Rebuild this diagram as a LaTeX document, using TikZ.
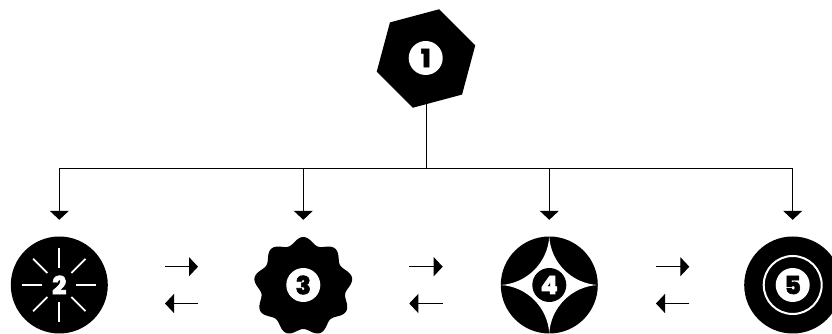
\documentclass[tikz,border=0pt]{standalone}
\usepackage{fontspec}
\newfontfamily\digitfont[FakeBold=2.2]{Poppins ExtraBold}
\usetikzlibrary{arrows.meta,shapes.geometric}
\tikzset{
  x=1pt,y=1pt,
  conn/.style={line width=1pt,black,-{Triangle[length=9pt,width=19pt]}},
  drop/.style={conn,shorten >=16.5pt},
  bus/.style={line width=1pt,black},
  disc/.style={circle,fill=black,draw=none,minimum size=97pt,inner sep=0pt},
  anchorbox/.style={circle,draw=none,minimum size=97pt,inner sep=0pt},
  badge/.style={circle,minimum size=34pt,inner sep=0pt,font=\digitfont\fontsize{25}{25}\selectfont},
  wbadge/.style={badge,fill=white,text=black},
  bbadge/.style={badge,fill=black,text=white},
  tbadge/.style={badge,text=white},
  ray/.style={white,line width=1.7pt},
}
\begin{document}
\begin{tikzpicture}
\useasboundingbox (0,0) rectangle (832,334);
% top hexagon
\node[regular polygon,regular polygon sides=6,shape border rotate=15,fill=black,minimum size=102pt,inner sep=0pt] (hex) at (426,275.5) {};
\node[wbadge] (n1) at (425.7,276) {1};
% node 2
\node[disc] (c2) at (59.3,49) {};
\foreach \a in {0,45,...,315}
  \draw[ray] (c2.center) ++(\a:17) -- ++(\a:20);
\node[tbadge] (n2) at (c2) {2};
% node 3
\node[anchorbox] (c3) at (303.3,49) {};
\begin{scope}[shift={(303.3,47.5)}]
  \fill[black] plot[domain=0:360,samples=241,smooth] (\x:{46+3.5*cos(9*(\x-90))}) -- cycle;
\end{scope}
\node[wbadge] (n3) at (c3) {3};
% node 4
\node[disc] (c4) at (549.3,49) {};
\begin{scope}[shift={(c4.center)}]
  \fill[white] (48.5,0) arc[start angle=266.8,end angle=183.2,radius=51.5pt]
    arc[start angle=356.8,end angle=273.2,radius=51.5pt]
    arc[start angle=86.8,end angle=3.2,radius=51.5pt]
    arc[start angle=176.8,end angle=93.2,radius=51.5pt] -- cycle;
\end{scope}
\node[bbadge] (n4) at (c4) {4};
% node 5
\node[disc] (c5) at (792.7,49) {};
\draw[white,line width=2pt] (c5.center) circle[radius=29pt];
\node[wbadge] (n5) at (c5) {5};
% tree connectors
\coordinate (busy) at (426,165);
\draw[bus] (hex) -- (busy);
\draw[bus] (busy -| c2) -- (busy -| c5);
\foreach \n in {c2,c3,c4,c5}
  \draw[drop] (busy -| \n) -- (\n.north);
% exchange arrows
\foreach \s/\xa/\xb in {a/165/198,b/409.3/442.7,c/656/689.3}{
  \coordinate (\s1) at (\xa,67.3);
  \coordinate (\s2) at (\xb,67.3);
  \coordinate (\s3) at (\xb,30.5);
  \coordinate (\s4) at (\xa,30.5);
  \draw[conn] (\s1) -- (\s2);
  \draw[conn] (\s3) -- (\s4);
}
\end{tikzpicture}
\end{document}
